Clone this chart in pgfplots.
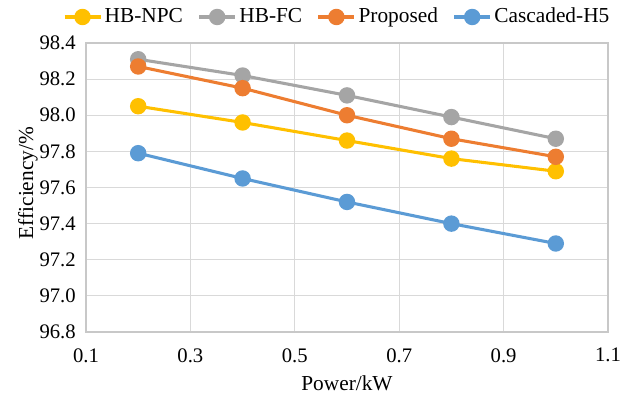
\documentclass[border=0pt]{standalone}
\usepackage{fontspec}
\setmainfont{Liberation Serif}
\usepackage{pgfplots}
\pgfplotsset{compat=1.18}
\definecolor{cY}{HTML}{FFC000}
\definecolor{cG}{HTML}{A5A5A5}
\definecolor{cO}{HTML}{ED7D31}
\definecolor{cB}{HTML}{5B9BD5}
\definecolor{gridc}{HTML}{D9D9D9}
\definecolor{axc}{HTML}{C8C8C8}
\begin{document}
\fontsize{16}{18}\selectfont
\begin{tikzpicture}
\path[use as bounding box] (0,0) rectangle (468pt,297.75pt);
\begin{axis}[
  at={(64.5pt,48.75pt)}, anchor=south west,
  scale only axis,
  width=391.5pt, height=216.75pt,
  xmin=0.1, xmax=1.1, ymin=96.8, ymax=98.4,
  xtick={0.1,0.3,0.5,0.7,0.9,1.1},
  ytick={96.8,97.0,97.2,97.4,97.6,97.8,98.0,98.2,98.4},
  xticklabels={0.1,0.3,0.5,0.7,0.9,1.1},
  yticklabels={96.8,97.0,97.2,97.4,97.6,97.8,98.0,98.2,98.4},
  /pgf/number format/assume math mode=true,
  grid=major,
  major grid style={gridc, line width=0.9pt},
  axis line style={axc, line width=0.9pt},
  tick style={draw=none},
  ticklabel style={font=\fontsize{15.5}{17}\selectfont, inner sep=0pt},
  xticklabel style={anchor=north, yshift=-12pt},
  yticklabel style={anchor=east, xshift=-7.5pt},
  xlabel={Power/kW}, ylabel={Efficiency/\%},
  xlabel style={at={(axis description cs:0.5,0)}, anchor=base, yshift=-43.5pt, inner sep=0pt},
  ylabel style={at={(axis description cs:-0.1015,0.515)}, anchor=base, rotate=0, inner sep=0pt},
  label style={font=\fontsize{16}{18}\selectfont},
  legend style={at={(axis description cs:0.4818,1.09)}, anchor=center, draw=none, legend columns=-1,
    inner sep=0pt, outer sep=0pt,
    /tikz/every even column/.append style={column sep=9pt}, font=\fontsize{16}{18}\selectfont},
  legend image code/.code={
    \draw[#1, mark=none] (0pt,0pt) -- (27pt,0pt);
    \draw[#1, only marks] plot coordinates {(13.5pt,0pt)};
  },
  every axis plot/.append style={line width=2.3pt, mark=*, mark size=5pt, mark options={solid}},
]
\addplot[cY, mark options={fill=cY, draw=cY}] coordinates {(0.2,98.05) (0.4,97.96) (0.6,97.86) (0.8,97.76) (1.0,97.69)};
\addlegendentry{HB-NPC}
\addplot[cG, mark options={fill=cG, draw=cG}] coordinates {(0.2,98.31) (0.4,98.22) (0.6,98.11) (0.8,97.99) (1.0,97.87)};
\addlegendentry{HB-FC}
\addplot[cO, mark options={fill=cO, draw=cO}] coordinates {(0.2,98.27) (0.4,98.15) (0.6,98.00) (0.8,97.87) (1.0,97.77)};
\addlegendentry{Proposed}
\addplot[cB, mark options={fill=cB, draw=cB}] coordinates {(0.2,97.79) (0.4,97.65) (0.6,97.52) (0.8,97.40) (1.0,97.29)};
\addlegendentry{Cascaded-H5}
\end{axis}
\end{tikzpicture}
\end{document}
